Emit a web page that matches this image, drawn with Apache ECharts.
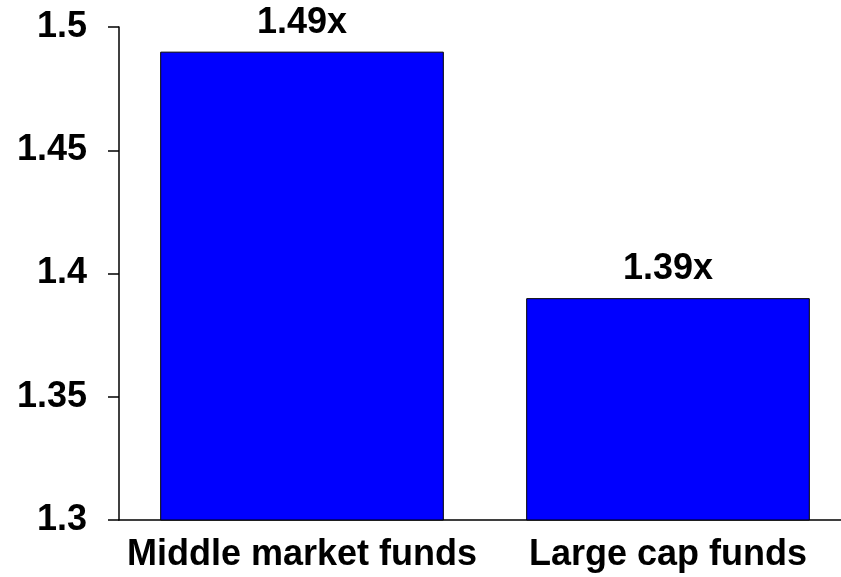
<!DOCTYPE html>
<html>
<head>
<meta charset="utf-8">
<script src="https://cdn.jsdelivr.net/npm/echarts@6/dist/echarts.min.js"></script>
<style>
  html, body { margin: 0; padding: 0; background: #fff; }
  #chart { width: 841px; height: 577px; }
</style>
</head>
<body>
<div id="chart"></div>
<script>
var categories = ['Middle market funds', 'Large cap funds'];
var multiples = [1.49, 1.39];

var chart = echarts.init(document.getElementById('chart'));
var font = 'Liberation Sans, Arial, sans-serif';

var option = {
  animation: false,
  backgroundColor: '#fff',
  grid: {
    left: 119,
    right: -10,
    top: 27,
    bottom: 57,
    outerBoundsMode: 'none'
  },
  xAxis: {
    type: 'category',
    data: categories,
    axisLine: { lineStyle: { color: '#000', width: 1.5 } },
    axisTick: { length: 10, lineStyle: { color: '#000', width: 1.5 } },
    axisLabel: {
      interval: 0,
      hideOverlap: false,
      color: '#000',
      fontFamily: font,
      fontWeight: 'bold',
      fontSize: 36,
      margin: 17
    }
  },
  yAxis: {
    type: 'value',
    min: 1.3,
    max: 1.5,
    interval: 0.05,
    splitLine: { show: false },
    axisLine: { show: true, lineStyle: { color: '#000', width: 1.5 } },
    axisTick: { show: true, length: 11, lineStyle: { color: '#000', width: 1.5 } },
    axisLabel: {
      color: '#000',
      fontFamily: font,
      fontWeight: 'bold',
      fontSize: 36,
      margin: 32
    }
  },
  series: [{
    type: 'bar',
    data: multiples,
    barCategoryGap: '22.5%',
    itemStyle: {
      color: '#0000ff',
      borderColor: '#000',
      borderWidth: 1
    },
    label: {
      show: true,
      position: 'top',
      distance: 11,
      color: '#000',
      fontFamily: font,
      fontWeight: 'bold',
      fontSize: 36,
      formatter: function (p) { return p.value.toFixed(2) + 'x'; }
    }
  }]
};

chart.setOption(option);
</script>
</body>
</html>
